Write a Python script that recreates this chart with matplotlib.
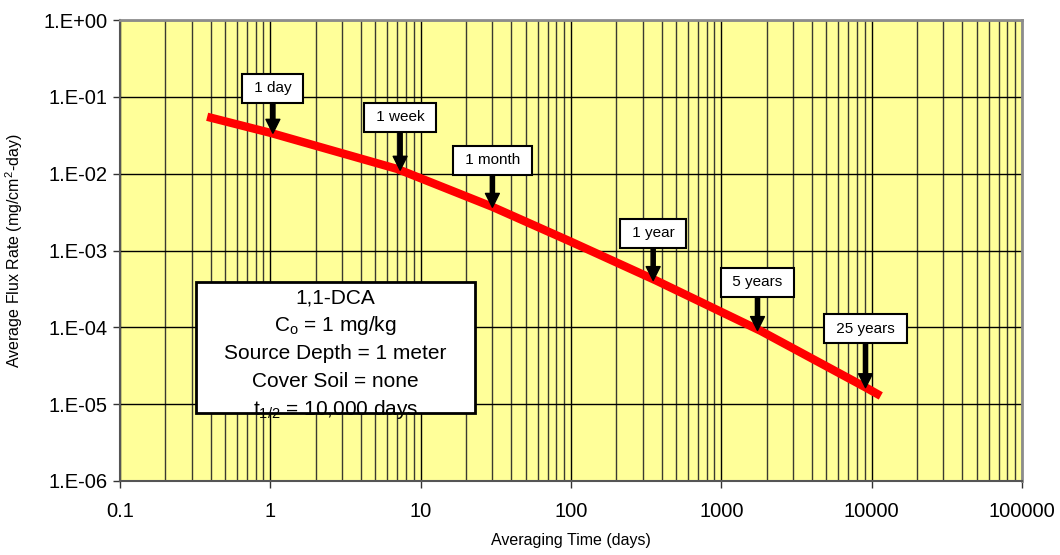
import matplotlib
matplotlib.use("Agg")
import matplotlib.pyplot as plt
from matplotlib.ticker import FixedLocator, FuncFormatter, NullFormatter
from matplotlib.patches import Rectangle

plt.rcParams['font.family'] = ['Liberation Sans', 'DejaVu Sans']
plt.rcParams['mathtext.fontset'] = 'custom'
plt.rcParams['mathtext.rm'] = 'Liberation Sans'
plt.rcParams['mathtext.it'] = 'Liberation Sans:italic'

# ---- data ----
days = [0.38, 1, 7, 30, 100, 365, 1825, 9125, 11500]
flux = [0.055, 0.034, 0.0115, 0.0037, 0.0013, 0.00041, 9.0e-5, 1.65e-5, 1.28e-5]

marker_labels = ["1 day", "1 week", "1 month", "1 year", "5 years", "25 years"]
marker_days = [1.04, 7.3, 30, 352, 1740, 9100]
marker_flux = [0.0336, 0.0111, 0.00365, 4.07e-4, 9.1e-5, 1.64e-5]
marker_offsets = [45, 53, 47, 47, 48, 59]

x_ticks = [0.1, 1, 10, 100, 1000, 10000, 100000]
x_tick_labels = ["0.1", "1", "10", "100", "1000", "10000", "100000"]
y_ticks = [1e-6, 1e-5, 1e-4, 1e-3, 1e-2, 1e-1, 1e0]
y_tick_labels = ["1.E-06", "1.E-05", "1.E-04", "1.E-03", "1.E-02", "1.E-01", "1.E+00"]

info_lines = ["1,1-DCA", r"C$_\mathrm{o}$ = 1 mg/kg", "Source Depth = 1 meter",
              "Cover Soil = none", r"t$_\mathrm{1/2}$ = 10,000 days"]

W, H = 1060, 555
fig = plt.figure(figsize=(W / 100, H / 100), dpi=100)
ax = fig.add_axes([120 / W, 1 - 481 / H, (1022 - 120) / W, (481 - 20) / H])
ax.set_facecolor('#FFFF99')
ax.set_xscale('log')
ax.set_yscale('log')
ax.set_xlim(0.1, 100000)
ax.set_ylim(1e-6, 1)

# grid
minor_x = [m * 10.0 ** e for e in range(-1, 5) for m in range(2, 10)]
ax.xaxis.set_major_locator(FixedLocator(x_ticks))
ax.xaxis.set_minor_locator(FixedLocator(minor_x))
ax.yaxis.set_major_locator(FixedLocator(y_ticks))
ax.yaxis.set_minor_locator(FixedLocator([]))
ax.xaxis.set_major_formatter(FuncFormatter(lambda v, p: x_tick_labels[x_ticks.index(v)] if v in x_ticks else ""))
ax.yaxis.set_major_formatter(FuncFormatter(lambda v, p: y_tick_labels[y_ticks.index(v)] if v in y_ticks else ""))
ax.xaxis.set_minor_formatter(NullFormatter())
ax.grid(True, which='major', axis='both', color='black', lw=1.0)
ax.grid(True, which='minor', axis='x', color='#3a3a30', lw=1.0)
ax.set_axisbelow(True)

for s in ['top', 'right']:
    ax.spines[s].set_color('#8c8c8c')
    ax.spines[s].set_linewidth(2)
for s in ['left', 'bottom']:
    ax.spines[s].set_color('#555555')
    ax.spines[s].set_linewidth(1.5)

ax.tick_params(axis='both', which='major', direction='out', length=5, width=1, color='#333333',
               labelsize=14.5)
ax.tick_params(axis='x', which='major', pad=10)
ax.tick_params(axis='y', which='major', pad=4)
ax.tick_params(axis='x', which='minor', length=0)

ax.plot(days, flux, color='#FF0000', lw=6, solid_capstyle='butt', solid_joinstyle='round', zorder=3)

for lab, xd, yd, off in zip(marker_labels, marker_days, marker_flux, marker_offsets):
    ax.annotate(" " + lab + " ", xy=(xd, yd), xytext=(0, off), textcoords='offset pixels',
                ha='center', va='center', fontsize=11, zorder=5,
                bbox=dict(boxstyle='square,pad=0.5', fc='white', ec='black', lw=1.5),
                arrowprops=dict(facecolor='black', edgecolor='black', width=3, headwidth=10,
                                headlength=10, shrink=0))

# info box (axes coordinates)
bx0 = (196 - 120) / 902
bx1 = (475 - 120) / 902
by0 = (481 - 413) / 461
by1 = (481 - 282) / 461
rect = Rectangle((bx0, by0), bx1 - bx0, by1 - by0, transform=ax.transAxes,
                 fc='white', ec='black', lw=2, zorder=6)
ax.add_patch(rect)
cx = (bx0 + bx1) / 2
for i, line in enumerate(info_lines):
    yp = (481 - (303 + 28 * i)) / 461
    t = ax.text(cx, yp, line, transform=ax.transAxes, ha='center', va='baseline',
                fontsize=15, zorder=7)
    t.set_clip_path(rect)

ax.set_xlabel("Averaging Time (days)", fontsize=11.5)
ax.set_ylabel("Average Flux Rate (mg/cm$^2$-day)", fontsize=11.5)
ax.xaxis.set_label_coords(0.5, -0.113)
ax.yaxis.set_label_coords(-0.105, 0.5)

fig.savefig("out.png", dpi=100, facecolor='white')
